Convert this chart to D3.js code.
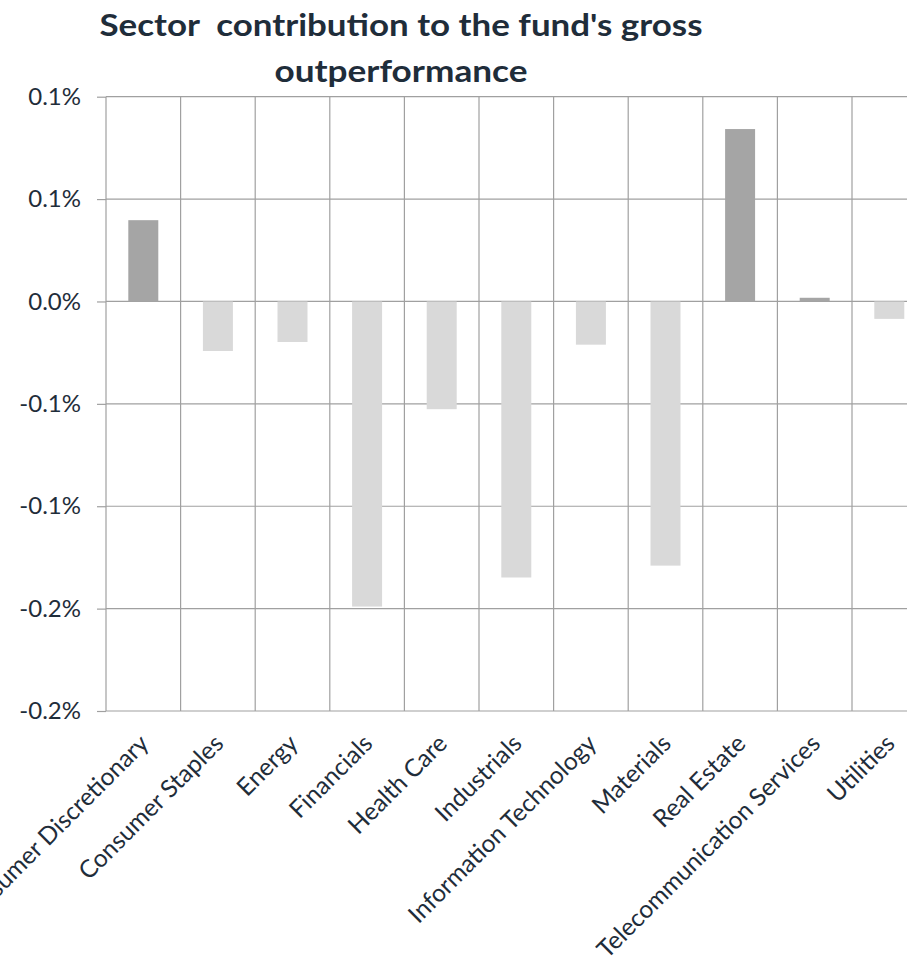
<!DOCTYPE html>
<html><head><meta charset="utf-8">
<script src="https://cdn.jsdelivr.net/npm/d3@7"></script>
<style>
body{margin:0;background:#fff;}
svg{display:block;font-family:Lato,'Open Sans',sans-serif;}
</style>
</head><body>
<svg id="chart" width="907" height="962"></svg>
<script>
const categories = ["Consumer Discretionary","Consumer Staples","Energy","Financials","Health Care","Industrials","Information Technology","Materials","Real Estate","Telecommunication Services","Utilities"];
const values = [0.0397,-0.0242,-0.0198,-0.149,-0.0526,-0.1348,-0.0211,-0.129,0.0842,0.0018,-0.0085];
const tickValues = [0.1,0.05,0,-0.05,-0.1,-0.15,-0.2];
const tickLabels = ["0.1%","0.1%","0.0%","-0.1%","-0.1%","-0.2%","-0.2%"];
const titleLines = ["Sector  contribution to the fund's gross","outperformance"];
const titleWidths = [603, 253];

const textColor = "#1f2d3a";
const gridColor = "#a0a0a0";
const posColor = "#a5a5a5";
const negColor = "#d9d9d9";

const svg = d3.select("#chart");
const left = 106, step = 74.6;
const x = d3.scaleBand().domain(categories).range([left, left + step*categories.length]).padding(0);
const y = d3.scaleLinear().domain([-0.2, 0.1]).range([711, 96.7]);

// title
svg.append("g").selectAll("text").data(titleLines).join("text")
  .attr("x", 401).attr("y", (d,i)=> i===0 ? 36 : 82)
  .attr("text-anchor","middle")
  .style("white-space","pre")
  .attr("font-size", 30).attr("font-weight", 700)
  .attr("textLength", (d,i)=>titleWidths[i])
  .attr("lengthAdjust", "spacingAndGlyphs")
  .attr("fill", textColor)
  .text(d=>d);

// horizontal gridlines
svg.append("g").selectAll("line").data(tickValues).join("line")
  .attr("x1", x.range()[0]).attr("x2", x.range()[1])
  .attr("y1", d=>y(d)).attr("y2", d=>y(d))
  .attr("stroke", gridColor).attr("stroke-width", 1.2);

// vertical gridlines
const bounds = categories.map(c=>x(c)).concat([x.range()[1]]);
svg.append("g").selectAll("line").data(bounds).join("line")
  .attr("x1", d=>d).attr("x2", d=>d)
  .attr("y1", y(0.1)).attr("y2", y(-0.2))
  .attr("stroke", gridColor).attr("stroke-width", 1.2);

// bars
const bw = x.bandwidth()*0.402;
svg.append("g").selectAll("rect").data(categories).join("rect")
  .attr("x", (d)=> x(d) + (x.bandwidth()-bw)/2)
  .attr("width", bw)
  .attr("y", (d,i)=> y(Math.max(0, values[i])))
  .attr("height", (d,i)=> Math.abs(y(values[i]) - y(0)))
  .attr("fill", (d,i)=> values[i] >= 0 ? posColor : negColor);

// y axis
const yAxis = svg.append("g").attr("transform", `translate(${left},0)`)
  .call(d3.axisLeft(y).tickValues(tickValues).tickFormat((d,i)=>tickLabels[i]).tickSizeInner(9).tickSizeOuter(0).tickPadding(16));
yAxis.select(".domain").remove();
yAxis.selectAll(".tick line").attr("stroke", gridColor).attr("stroke-width", 1.2);
yAxis.selectAll(".tick text").attr("font-size", 24).attr("fill", textColor).attr("font-family","Lato,sans-serif");

// x axis
const xAxis = svg.append("g").attr("transform", `translate(0,${y(-0.2)})`)
  .call(d3.axisBottom(x).tickSize(0).tickPadding(0));
xAxis.select(".domain").remove();
xAxis.selectAll(".tick text")
  .attr("y", 0).attr("dy", 0)
  .attr("transform", "translate(7,34) rotate(-45)")
  .style("text-anchor", "end")
  .attr("font-size", 24.5).attr("fill", textColor).attr("font-family","Lato,sans-serif");
</script>
</body></html>
